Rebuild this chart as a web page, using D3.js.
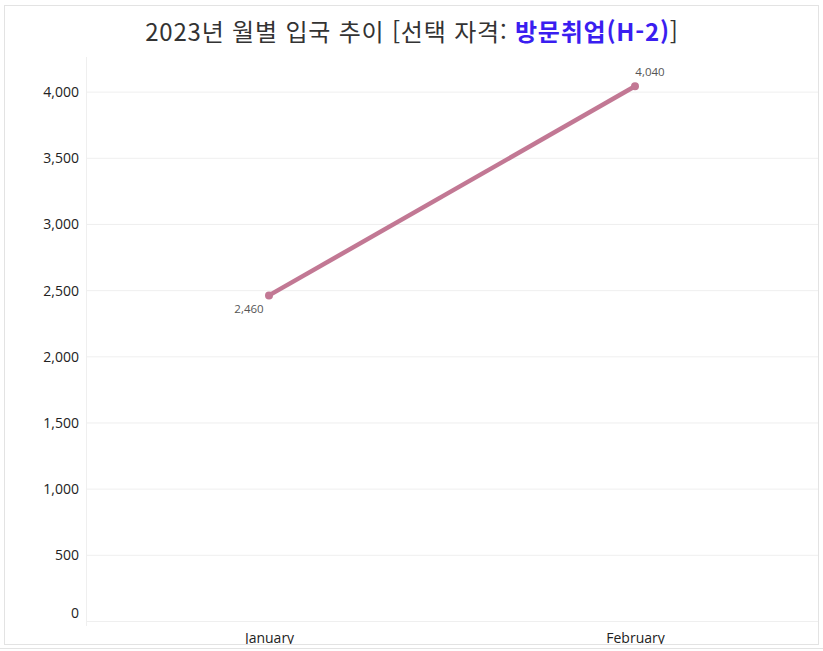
<!DOCTYPE html>
<html lang="ko">
<head>
    <meta charset="UTF-8">
    <title>2023년 월별 입국 추이</title>
    <style>
        html, body { margin: 0; padding: 0; background: #fff; }
        svg { display: block; }
        .grid line { stroke: #efefef; }
        .grid path { display: none; }
        .axis text { font-family: "Open Sans", "Noto Sans", sans-serif; }
    </style>
</head>
<body>
<svg></svg>
<script src="https://d3js.org/d3.v7.min.js"></script>
<script>
    /* data */
    const months = ["January", "February"];
    const entries = [2460, 4040];
    const yTicks = [0, 500, 1000, 1500, 2000, 2500, 3000, 3500, 4000];
    const titlePlain = "2023년 월별 입국 추이 [선택 자격: ";
    const titleQual = "방문취업(H-2)";

    /* layout */
    const width = 823;
    const height = 651;
    const plotLeft = 86, plotRight = 818, plotTop = 57, plotBottom = 621;

    const svg = d3.select("svg")
        .attr("width", width)
        .attr("height", height);

    /* frame */
    svg.append("rect")
        .attr("x", 4.5).attr("y", 5.5)
        .attr("width", 814).attr("height", 639)
        .attr("fill", "none").attr("stroke", "#e3e3e3");
    svg.append("line")
        .attr("x1", 0).attr("x2", width)
        .attr("y1", 648.5).attr("y2", 648.5)
        .attr("stroke", "#e3e3e3");

    svg.append("defs").append("clipPath").attr("id", "frame")
        .append("rect").attr("x", 5).attr("y", 6).attr("width", 813).attr("height", 638);

    const x = d3.scalePoint().domain(months).range([plotLeft, plotRight]).padding(0.5);
    const y = d3.scaleLinear().domain([0, 4000]).range([plotBottom, plotBottom - 4000 * 0.13235]);

    const g = svg.append("g").attr("clip-path", "url(#frame)");

    /* grid */
    g.append("g")
        .attr("class", "grid")
        .attr("transform", `translate(${plotLeft},0)`)
        .call(d3.axisLeft(y).tickValues(yTicks).tickSize(-(plotRight - plotLeft)).tickFormat(""));

    /* left axis line */
    g.append("line")
        .attr("x1", plotLeft + 0.5).attr("x2", plotLeft + 0.5)
        .attr("y1", plotTop).attr("y2", plotBottom + 5)
        .attr("stroke", "#efefef");

    /* y labels */
    const yAxis = g.append("g")
        .attr("class", "axis")
        .attr("transform", `translate(${plotLeft - 7},0)`)
        .call(d3.axisLeft(y).tickValues(yTicks).tickSize(0).tickFormat(d3.format(",")));
    yAxis.select(".domain").remove();
    yAxis.selectAll("text")
        .attr("x", 0)
        .attr("dy", "0.35em")
        .attr("font-size", 14)
        .attr("fill", "#222")
        .attr("transform", (d) => d === 0 ? "translate(0,-8)" : null);

    /* x labels */
    const xAxis = g.append("g")
        .attr("class", "axis")
        .attr("transform", `translate(0,${plotBottom})`)
        .call(d3.axisBottom(x).tickSize(0));
    xAxis.select(".domain").remove();
    xAxis.selectAll("text")
        .attr("y", 12)
        .attr("dy", "0.71em")
        .attr("font-size", 14)
        .attr("fill", "#222");

    /* line */
    const pts = months.map((m, i) => ({ m: m, v: entries[i] }));
    g.append("path")
        .datum(pts)
        .attr("fill", "none")
        .attr("stroke", "#c27894")
        .attr("stroke-width", 4.5)
        .attr("d", d3.line().x((d) => x(d.m)).y((d) => y(d.v)));
    g.selectAll(".dot").data(pts).enter().append("circle")
        .attr("cx", (d) => x(d.m))
        .attr("cy", (d) => y(d.v))
        .attr("r", 4)
        .attr("fill", "#c27894");

    /* value labels: below for first, above for the rest */
    g.selectAll(".val").data(pts).enter().append("text")
        .attr("x", (d, i) => x(d.m) + (i === 0 ? -20 : 15))
        .attr("y", (d, i) => y(d.v) + (i === 0 ? 18 : -10))
        .attr("text-anchor", "middle")
        .attr("font-family", "'Open Sans', 'Noto Sans', sans-serif")
        .attr("font-size", 11.5)
        .attr("fill", "#555")
        .text((d) => d3.format(",")(d.v));

    /* title */
    const title = svg.append("text")
        .attr("x", 412)
        .attr("y", 41)
        .attr("text-anchor", "middle")
        .attr("font-family", "'Noto Sans CJK KR', 'Noto Sans', sans-serif")
        .attr("font-size", 24)
        .attr("letter-spacing", 0.8)
        .attr("fill", "#333");
    title.append("tspan").text(titlePlain);
    title.append("tspan").attr("font-weight", "bold").attr("fill", "#3a1ef0").text(titleQual);
    title.append("tspan").text("]");
</script>
</body>
</html>
